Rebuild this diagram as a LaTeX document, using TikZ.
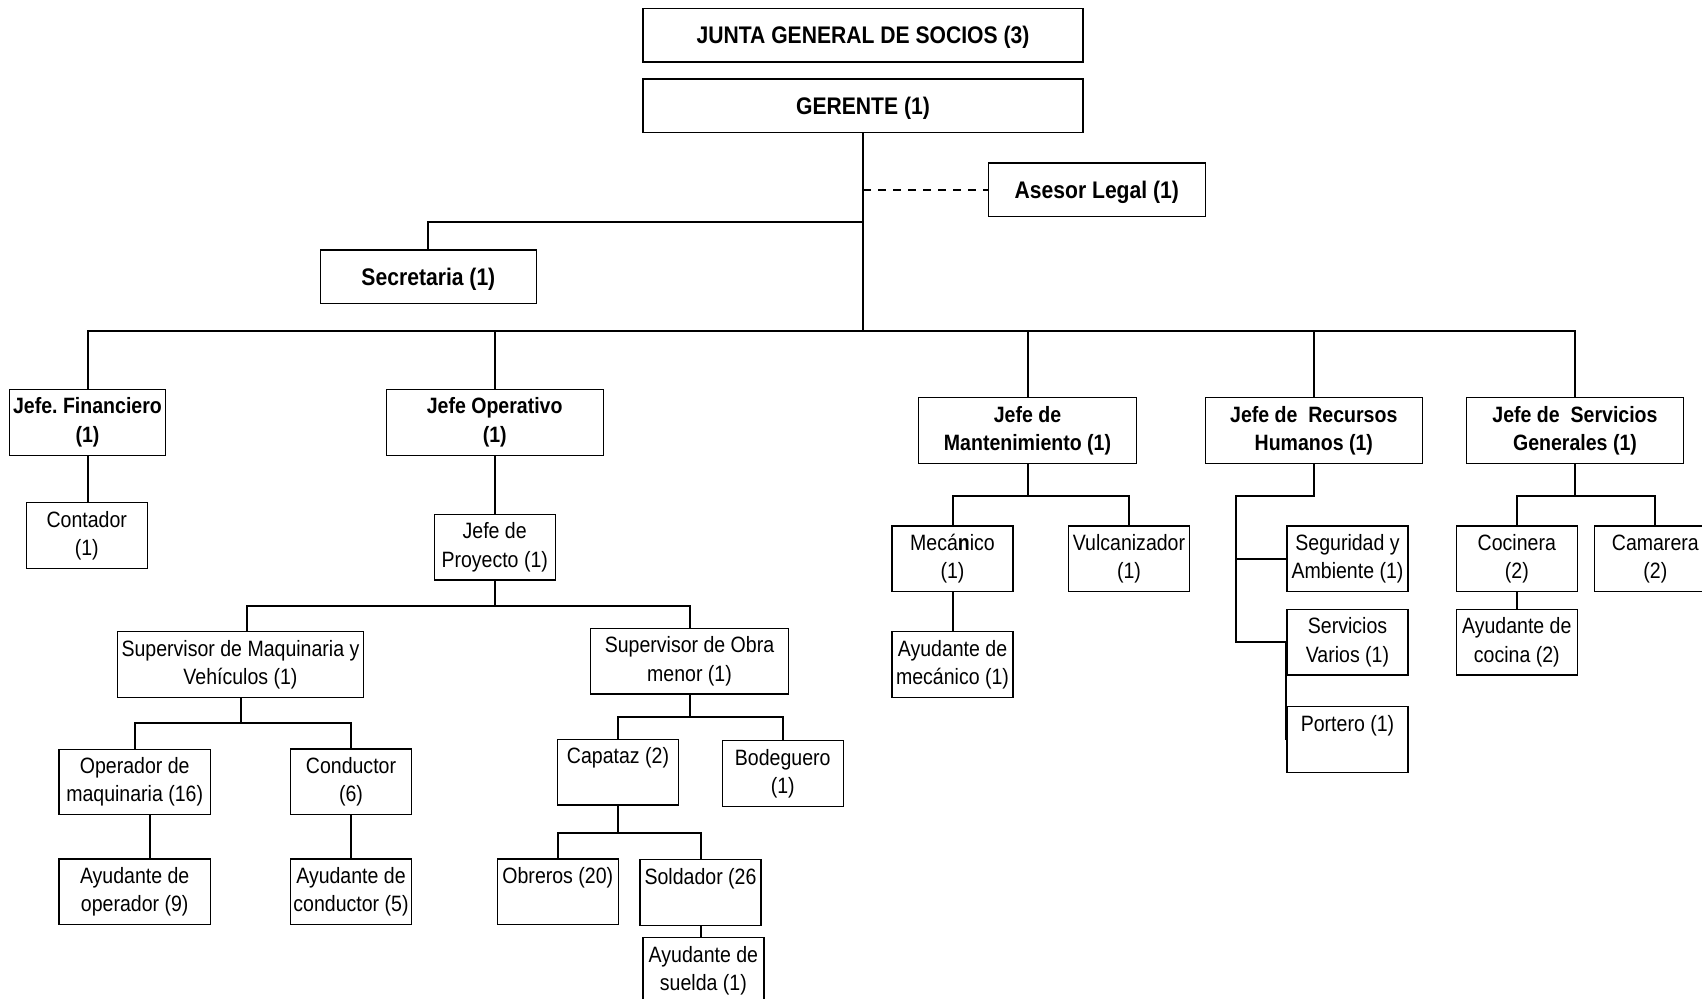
\documentclass[tikz,border=0pt]{standalone}
\usepackage{fontspec}
\setmainfont{Liberation Sans}[FakeStretch=0.88]
\usepackage{tikz}

\begin{document}
\begin{tikzpicture}[
  x=0.5pt, y=-0.5pt,
  every node/.style={draw,line width=0.65pt,inner sep=1pt,align=center,minimum width=60.5pt,
    minimum height=32.8pt,font=\fontsize{11.1}{14.1}\selectfont},
  head/.style={font=\fontsize{12}{14.1}\selectfont\bfseries,minimum height=26.7pt,
    text height=11.3pt,text depth=2.5pt},
  chief/.style={font=\fontsize{11.1}{14.1}\selectfont\bfseries,minimum height=33pt},
  w/.style={minimum width=#1},
  oneline/.style={text depth=16.5pt},
  link/.style={line width=1pt}
]
\useasboundingbox (0,0) rectangle (1702,999);
\node[head,w=219.9pt] (junta) at (863,35.2) {JUNTA GENERAL DE SOCIOS (3)};
\node[head,w=219.9pt] (gerente) at (863,105.7) {GERENTE (1)};
\node[head,w=108.6pt] (asesor) at (1096.8,189.8) {Asesor Legal (1)};
\node[head,w=108pt] (secretaria) at (428.4,276.7) {Secretaria (1)};

\node[chief,w=78.2pt] (financiero) at (87.5,422.3) {Jefe.\ Financiero\\(1)};
\node[chief,w=108.5pt] (operativo) at (494.7,422.3) {Jefe Operativo\\(1)};
\node[chief,w=108.8pt] (mantenimiento) at (1027.5,430.8) {Jefe de\\Mantenimiento (1)};
\node[chief,w=108.5pt] (rrhh) at (1313.8,430.8) {Jefe de~ Recursos\\Humanos (1)};
\node[chief,w=108.7pt] (servicios) at (1575,430.8) {Jefe de~ Servicios\\Generales (1)};

\node (contador) at (86.8,535.5) {Contador\\(1)};
\node (proyecto) at (494.7,547.3) {Jefe de\\Proyecto (1)};
\node[w=123.2pt] (supmaq) at (240.5,664.5) {Supervisor de Maquinaria y\\Vehículos (1)};
\node[w=99.2pt] (supobra) at (689.5,661.2) {Supervisor de Obra\\menor (1)};
\node[w=75.7pt] (operador) at (134.7,782) {Operador de\\maquinaria (16)};
\node (conductor) at (351,781.8) {Conductor\\(6)};
\node[w=75.7pt] (ayuoper) at (134.7,891.7) {Ayudante de\\operador (9)};
\node (ayucond) at (351,891.7) {Ayudante de\\conductor (5)};
\node[oneline] (capataz) at (618,772.2) {Capataz (2)};
\node (bodeguero) at (782.7,773.4) {Bodeguero\\(1)};
\node[oneline] (obreros) at (557.8,891.8) {Obreros (20)};
\node[oneline] (soldador) at (700.5,892.5) {Soldador (26};
\node (ayusuelda) at (703.4,970.4) {Ayudante de\\suelda (1)};

\node (mecanico) at (952.5,558.8) {Mecá\textbf{n}ico\\(1)};
\node (vulcanizador) at (1129,558.8) {Vulcanizador\\(1)};
\node (ayumec) at (952.5,664.5) {Ayudante de\\mecánico (1)};
\node (seguridad) at (1347.5,558.8) {Seguridad y\\Ambiente (1)};
\node (varios) at (1347.5,642.3) {Servicios\\Varios (1)};
\node[oneline] (portero) at (1347.5,739.5) {Portero (1)};
\node (cocinera) at (1516.8,558.8) {Cocinera\\(2)};
\node (camarera) at (1655.3,558.8) {Camarera\\(2)};
\node (ayucocina) at (1516.8,642.3) {Ayudante de\\cocina (2)};

\draw[line width=0.9pt,dash pattern=on 4pt off 3.5pt] (asesor.west -| gerente.south) -- (asesor.west);
\draw[link] (secretaria.north) |- ([yshift=-44.7pt]gerente.south);
\draw[link] (gerente.south) -- ++(0,197.5) coordinate (bus);
\draw[link] (bus) -| (financiero.north);
\draw[link] (bus) -| (operativo.north);
\draw[link] (bus) -| (mantenimiento.north);
\draw[link] (bus) -| (rrhh.north);
\draw[link] (bus) -| (servicios.north);

\draw[link] (financiero.south) -- (financiero.south |- contador.north);
\draw[link] (operativo.south) -- (proyecto.north);
\draw[link] (proyecto.south) -- ++(0,25) coordinate (p1) -| ([xshift=3.4pt]supmaq.north);
\draw[link] (p1) -| (supobra.north);
\draw[link] (supmaq.south) -- ++(0,25.4) coordinate (m1) -| (operador.north);
\draw[link] (m1) -| (conductor.north);
\draw[link] ([xshift=7.6pt]operador.south) -- ([xshift=7.6pt]ayuoper.north);
\draw[link] (conductor.south) -- (ayucond.north);
\draw[link] (supobra.south) -- ++(0,22.7) coordinate (o1) -| (capataz.north);
\draw[link] (o1) -| (bodeguero.north);
\draw[link] (capataz.south) -- ++(0,27.3) coordinate (c1) -| (obreros.north);
\draw[link] (c1) -| (soldador.north);
\draw[link] (soldador.south) -- (soldador.south |- ayusuelda.north);

\draw[link] (mantenimiento.south) -- ++(0,32) coordinate (t1) -| (mecanico.north);
\draw[link] (t1) -| (vulcanizador.north);
\draw[link] (mecanico.south) -- (ayumec.north);
\draw[link] (rrhh.south) -- ++(0,32) -| ([xshift=-25pt]seguridad.west) -- (seguridad.west);
\draw[link] ([xshift=-25pt]seguridad.west) |- (varios.west);
\draw[link] (varios.west) -- (portero.west);
\draw[link] (servicios.south) -- ++(0,32) coordinate (s1) -| (cocinera.north);
\draw[link] (s1) -| (camarera.north);
\draw[link] (cocinera.south) -- (ayucocina.north);
\end{tikzpicture}
\end{document}
